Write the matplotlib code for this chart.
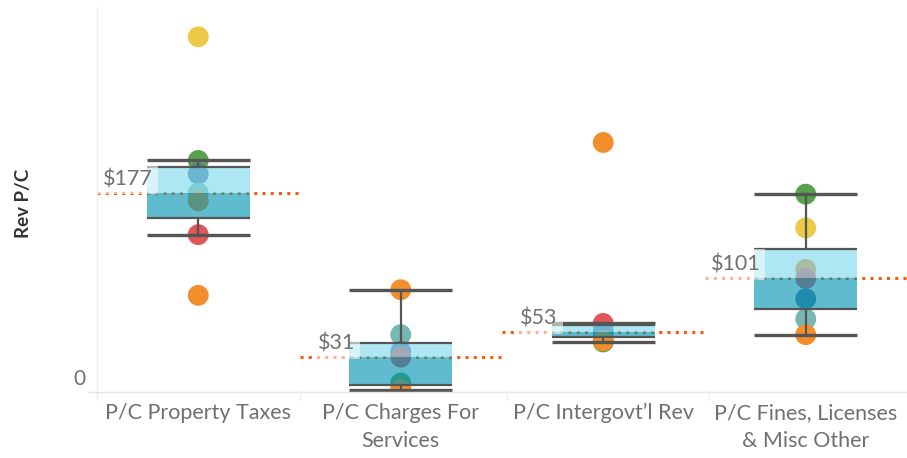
import matplotlib
matplotlib.use("Agg")
import matplotlib.pyplot as plt
from matplotlib.lines import Line2D
from matplotlib import cbook

plt.rcParams['font.family'] = ['Lato', 'DejaVu Sans']

# Tableau 10 colours used for the marks
BLUE, ORANGE, RED = '#4e79a7', '#f28e2b', '#e15759'
TEAL, GREEN, YELLOW = '#76b7b2', '#59a14f', '#edc948'

categories = ["P/C Property Taxes", "P/C Charges For\nServices",
              "P/C Intergovt\u2019l Rev", "P/C Fines, Licenses\n& Misc Other"]

# values (revenue per capita, $)
property_taxes = [316, 206, 194, 177, 170, 140, 86]
property_colors = [YELLOW, GREEN, BLUE, TEAL, ORANGE, RED, ORANGE]

charges_services = [91, 51, 36, 31, 4, 8, 2]
charges_colors = [ORANGE, TEAL, BLUE, RED, YELLOW, GREEN, ORANGE]

intergovt_rev = [222, 59, 61, 53, 53, 44.5, 45.5]
intergovt_colors = [ORANGE, TEAL, RED, YELLOW, BLUE, GREEN, ORANGE]

fines_misc = [176, 146, 109, 101, 83, 65, 51]
fines_colors = [GREEN, YELLOW, ORANGE, RED, BLUE, TEAL, ORANGE]

series = [property_taxes, charges_services, intergovt_rev, fines_misc]
series_colors = [property_colors, charges_colors, intergovt_colors, fines_colors]

LINE = '#555555'
LABEL = '#707070'
box_w = 0.51

fig = plt.figure(figsize=(9.07, 4.58), dpi=100)
ax = fig.add_axes([97 / 907, 66 / 458, 810 / 907, 385 / 458])
ax.set_xlim(-0.5, 3.5)
ax.set_ylim(0, 342.5)

for i, (vals, cols) in enumerate(zip(series, series_colors)):
    st = cbook.boxplot_stats(vals, whis=1.5)[0]
    left, right = i - box_w / 2, i + box_w / 2

    # median reference line across the whole cell
    ax.hlines(st['med'], i - 0.5, i + 0.5, colors='#f95a0c', lw=2.2,
              linestyles=(0, (1, 1.7)), zorder=1)

    # the dots
    ax.scatter([i] * len(vals), vals, s=225, c=cols, linewidths=0,
               zorder=2, clip_on=True)

    # two-tone box
    ax.bar(i, st['q3'] - st['med'], bottom=st['med'], width=box_w,
           color='#7edaec', alpha=0.63, lw=0, zorder=3)
    ax.bar(i, st['med'] - st['q1'], bottom=st['q1'], width=box_w,
           color='#0596b4', alpha=0.64, lw=0, zorder=3)

    # box edges, whiskers and caps
    ax.hlines([st['q1'], st['q3']], left, right, colors=LINE, lw=1.6, zorder=4)
    ax.vlines(i, st['q3'], st['whishi'], colors=LINE, lw=1.6, zorder=4)
    ax.vlines(i, st['whislo'], st['q1'], colors=LINE, lw=1.6, zorder=4)
    ax.hlines([st['whislo'], st['whishi']], left, right, colors=LINE,
              lw=2.4, zorder=4)

    ax.annotate(f"${st['med']:.0f}", xy=(left, st['med']), xytext=(6, 4),
                textcoords='offset pixels', ha='right', va='bottom',
                fontsize=15.5, color=LABEL, zorder=5,
                bbox=dict(boxstyle='square,pad=0.25', fc='white', ec='none',
                          alpha=0.55))

for s in ax.spines.values():
    s.set_visible(False)
ax.set_yticks([])
ax.set_xticks(range(len(categories)))
ax.set_xticklabels(categories, fontsize=15.5, color=LABEL, linespacing=1.5)
ax.tick_params(axis='x', length=0, pad=8)

# zero label sits just above the axis
ax.text(-0.5 - 12 / 202.5, 3, "0", ha='right', va='bottom',
        fontsize=15, color=LABEL)

ax.set_ylabel("Rev P/C", fontsize=13.5, fontweight='bold', color='#333333')
ax.yaxis.set_label_coords(-65 / 810, 0.49)

# faint axis rules and header separators
fig.add_artist(Line2D([97 / 907, 97 / 907], [58 / 458, 451 / 458],
                      color='#eeeeee', lw=1))
fig.add_artist(Line2D([88 / 907, 1], [66 / 458, 66 / 458],
                      color='#e4e4e4', lw=1))
for x in (300, 507, 709):
    fig.add_artist(Line2D([x / 907, x / 907], [58 / 458, 66 / 458],
                          color='#f0f0f0', lw=1))

fig.savefig("out.png", dpi=100)
